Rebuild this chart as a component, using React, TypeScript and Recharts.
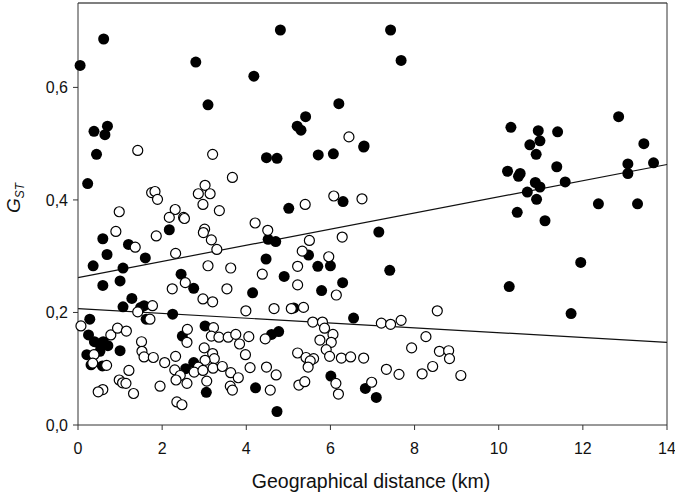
import React from 'react';
import { ScatterChart, Scatter, XAxis, YAxis, ReferenceLine } from 'recharts';

// [distance km, GST] — filled circles
const filledPairs: [number, number][] = [
  [0.05, 0.639], [0.61, 0.686], [2.8, 0.645], [4.18, 0.62], [3.09, 0.569], [4.81, 0.702],
  [0.38, 0.522], [0.7, 0.531], [0.64, 0.516], [7.43, 0.702], [7.68, 0.648], [6.2, 0.571],
  [5.41, 0.548], [5.21, 0.531], [5.3, 0.524], [6.8, 0.496], [10.29, 0.529], [10.94, 0.523],
  [11.4, 0.521], [10.98, 0.505], [10.74, 0.498], [12.85, 0.548], [13.45, 0.5], [0.44, 0.481],
  [0.23, 0.429], [4.48, 0.475], [4.73, 0.474], [2.17, 0.347], [0.59, 0.331], [1.2, 0.321],
  [4.52, 0.33], [4.7, 0.326], [0.69, 0.303], [1.6, 0.297], [4.47, 0.295], [0.36, 0.283],
  [1.07, 0.279], [2.45, 0.268], [1.0, 0.256], [0.59, 0.248], [2.75, 0.243], [4.15, 0.235],
  [5.71, 0.48], [6.07, 0.482], [6.79, 0.494], [6.3, 0.397], [5.01, 0.385], [7.15, 0.343],
  [5.48, 0.302], [5.7, 0.282], [6.0, 0.283], [7.41, 0.275], [4.9, 0.264], [6.29, 0.253],
  [5.79, 0.239], [10.89, 0.481], [10.21, 0.451], [10.51, 0.447], [10.47, 0.442], [11.38, 0.459],
  [10.87, 0.431], [10.98, 0.423], [10.68, 0.414], [11.58, 0.432], [10.9, 0.401], [13.07, 0.464],
  [13.07, 0.447], [13.68, 0.466], [10.44, 0.378], [11.1, 0.363], [12.37, 0.393], [13.3, 0.393],
  [11.95, 0.289], [10.25, 0.246], [11.72, 0.198], [1.28, 0.225], [1.07, 0.21], [1.57, 0.212],
  [1.49, 0.209], [1.62, 0.188], [2.25, 0.197], [0.28, 0.188], [0.25, 0.16], [0.39, 0.148],
  [0.6, 0.148], [0.71, 0.141], [0.51, 0.144], [0.21, 0.125], [0.52, 0.131], [0.31, 0.107],
  [0.58, 0.105], [1.0, 0.132], [3.02, 0.176], [2.48, 0.158], [4.6, 0.161], [4.77, 0.166],
  [2.75, 0.111], [2.56, 0.1], [3.05, 0.058], [4.22, 0.066], [4.73, 0.024], [5.13, 0.208],
  [6.55, 0.19], [6.01, 0.087], [6.83, 0.065], [7.09, 0.049],
];

// [distance km, GST] — open circles
const openPairs: [number, number][] = [
  [6.44, 0.512], [1.42, 0.488], [3.2, 0.481], [3.67, 0.44], [1.75, 0.413], [1.83, 0.415],
  [1.89, 0.401], [3.02, 0.426], [2.86, 0.411], [3.14, 0.411], [2.97, 0.392], [3.36, 0.381],
  [0.98, 0.379], [2.31, 0.383], [2.17, 0.369], [2.51, 0.369], [2.53, 0.367], [0.9, 0.344],
  [3.01, 0.348], [2.98, 0.342], [4.21, 0.359], [4.51, 0.346], [1.86, 0.336], [3.17, 0.329],
  [1.36, 0.316], [3.3, 0.312], [2.32, 0.305], [3.09, 0.283], [3.63, 0.279], [4.38, 0.268],
  [2.55, 0.253], [2.24, 0.242], [3.54, 0.242], [6.08, 0.407], [6.75, 0.402], [5.4, 0.392],
  [5.5, 0.328], [6.28, 0.334], [5.33, 0.309], [5.96, 0.299], [5.22, 0.282], [5.22, 0.249],
  [1.77, 0.212], [1.42, 0.201], [1.71, 0.188], [2.97, 0.224], [3.2, 0.219], [3.99, 0.203],
  [4.66, 0.207], [0.07, 0.176], [0.38, 0.125], [0.35, 0.11], [0.68, 0.106], [0.78, 0.16],
  [0.94, 0.172], [1.15, 0.167], [1.51, 0.148], [1.52, 0.131], [1.57, 0.121], [1.79, 0.12],
  [2.06, 0.111], [1.21, 0.097], [0.98, 0.08], [1.06, 0.075], [1.14, 0.074], [0.59, 0.063],
  [0.48, 0.059], [1.32, 0.056], [1.95, 0.069], [3.22, 0.173], [2.6, 0.17], [2.59, 0.147],
  [3.17, 0.158], [3.35, 0.156], [3.57, 0.156], [3.75, 0.161], [4.06, 0.157], [3.84, 0.144],
  [4.45, 0.153], [3.0, 0.137], [3.2, 0.127], [3.24, 0.118], [3.02, 0.115], [2.32, 0.122],
  [2.86, 0.103], [2.76, 0.094], [2.97, 0.097], [3.21, 0.101], [3.43, 0.104], [3.63, 0.093],
  [3.81, 0.084], [2.3, 0.098], [2.43, 0.088], [2.33, 0.08], [2.59, 0.074], [3.06, 0.078],
  [3.62, 0.069], [3.67, 0.062], [2.35, 0.041], [2.47, 0.036], [4.57, 0.062], [4.09, 0.102],
  [3.98, 0.125], [4.48, 0.103], [4.71, 0.089], [6.14, 0.231], [5.07, 0.207], [5.36, 0.209],
  [8.54, 0.203], [5.58, 0.183], [5.81, 0.183], [5.86, 0.172], [6.06, 0.161], [5.75, 0.151],
  [6.02, 0.147], [5.9, 0.134], [5.98, 0.122], [7.21, 0.181], [7.43, 0.179], [7.68, 0.186],
  [8.27, 0.157], [7.93, 0.137], [8.59, 0.131], [8.81, 0.132], [8.83, 0.118], [8.43, 0.104],
  [8.18, 0.091], [9.1, 0.088], [7.63, 0.09], [7.33, 0.099], [5.22, 0.128], [5.42, 0.12],
  [5.6, 0.118], [5.52, 0.114], [5.47, 0.103], [6.26, 0.119], [6.48, 0.121], [6.79, 0.119],
  [5.25, 0.071], [5.39, 0.077], [6.13, 0.074], [6.19, 0.055], [6.98, 0.076],
];

// regression lines: value at x=0 and x=14
const upperFit = [{ x: 0, y: 0.262 }, { x: 14, y: 0.463 }];
const lowerFit = [{ x: 0, y: 0.207 }, { x: 14, y: 0.147 }];

const xTicks = [0, 2, 4, 6, 8, 10, 12, 14];
const yTicks = [0, 0.2, 0.4, 0.6];

const filledData = filledPairs.map(([x, y]) => ({ x, y }));
const openData = openPairs.map(([x, y]) => ({ x, y }));

const FONT = '"Liberation Sans", Arial, sans-serif';
const AXIS = '#333';

const FilledDot = (p: any) => <circle cx={p.cx} cy={p.cy} r={5.5} fill="#000" />;
const OpenDot = (p: any) => <circle cx={p.cx} cy={p.cy} r={5} fill="#fff" stroke="#000" strokeWidth={1.2} />;

const App = () => (
  <div style={{ position: 'absolute', left: 0, top: 0, background: '#fff' }}>
    <ScatterChart width={675} height={496} margin={{ top: 3, right: 8, left: 0, bottom: 0 }}>
      <XAxis
        type="number"
        dataKey="x"
        domain={[0, 14]}
        ticks={xTicks}
        height={71}
        tickSize={5}
        tickMargin={13}
        stroke={AXIS}
        tick={{ fill: '#111', fontSize: 16, fontFamily: FONT }}
        label={{
          content: () => (
            <text x={371} y={488} textAnchor="middle" fontSize={19.5} fontFamily={FONT} fill="#111">
              Geographical distance (km)
            </text>
          ),
        }}
      />
      <YAxis
        type="number"
        dataKey="y"
        domain={[0, 0.75]}
        ticks={yTicks}
        width={78}
        tickSize={5}
        tickMargin={5}
        stroke={AXIS}
        tickFormatter={(v: number) => v.toFixed(1).replace('.', ',')}
        tick={{ fill: '#111', fontSize: 16, fontFamily: FONT }}
        label={{
          content: () => (
            <text transform="translate(20,198) rotate(-90)" textAnchor="middle" fontSize={19} fontStyle="italic" fontFamily={FONT} fill="#111">
              G<tspan fontSize={12} dy={4}>ST</tspan>
            </text>
          ),
        }}
      />
      <ReferenceLine y={0.75} stroke="#555" strokeWidth={1.5} />
      <ReferenceLine x={14} stroke={AXIS} strokeWidth={1} />
      <Scatter data={filledData} shape={FilledDot} isAnimationActive={false} />
      <Scatter data={openData} shape={OpenDot} isAnimationActive={false} />
      <ReferenceLine segment={upperFit} stroke="#111" strokeWidth={1.2} />
      <ReferenceLine segment={lowerFit} stroke="#111" strokeWidth={1.2} />
    </ScatterChart>
  </div>
);

export default App;
